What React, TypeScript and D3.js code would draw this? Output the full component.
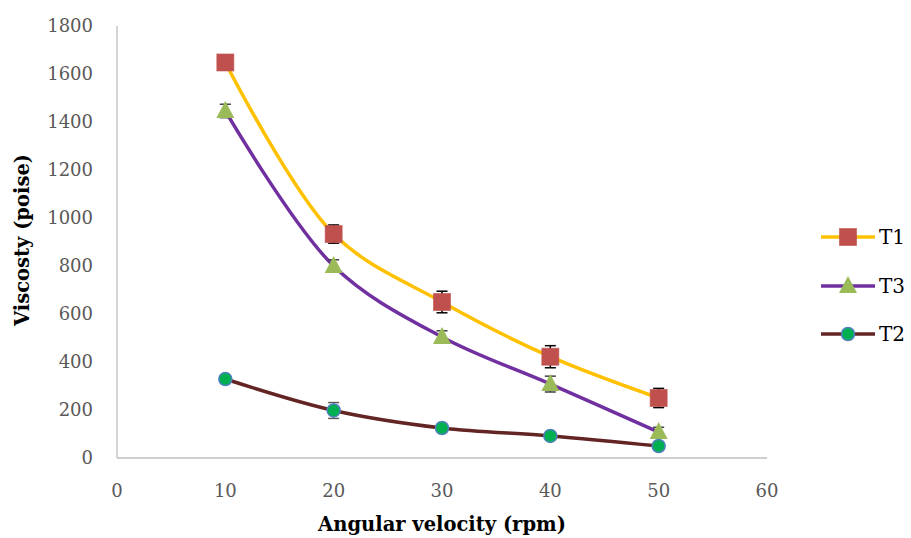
import React from "react";
import * as d3 from "d3";

const rpm = [10, 20, 30, 40, 50];
const t1 = [1648, 933, 650, 422, 250];
const t1Err = [30, 38, 45, 46, 40];
const t3 = [1446, 800, 504, 308, 108];
const t3Err = [28, 26, 26, 33, 20];
const t2 = [329, 198, 125, 92, 50];
const t2Err = [15, 33, 15, 12, 10];
const xTicks = [0, 10, 20, 30, 40, 50, 60];
const yTicks = [0, 200, 400, 600, 800, 1000, 1200, 1400, 1600, 1800];

const W = 911, H = 538;
const left = 117, right = 767, top = 26, bottom = 458;
const FONT = "'DejaVu Serif', 'Liberation Serif', serif";

export default function App() {
  const x = d3.scaleLinear().domain([0, 60]).range([left, right]);
  const y = d3.scaleLinear().domain([0, 1800]).range([bottom, top]);
  const line = d3
    .line<number>()
    .x((_, i) => x(rpm[i]))
    .y((d) => y(d))
    .curve(d3.curveCatmullRom.alpha(0.5));

  const series = [
    { name: "T1", vals: t1, err: t1Err, line: "#FFC000", errColor: "#000", marker: "square" },
    { name: "T3", vals: t3, err: t3Err, line: "#7030A0", errColor: "#404040", marker: "triangle" },
    { name: "T2", vals: t2, err: t2Err, line: "#632523", errColor: "#595959", marker: "circle" },
  ];

  const drawMarker = (type: string, cx: number, cy: number, key: string) => {
    if (type === "square")
      return <rect key={key} x={cx - 8.5} y={cy - 8.5} width={17} height={17} fill="#C0504D" stroke="#C0504D" strokeOpacity={0.6} />;
    if (type === "triangle")
      return (
        <path key={key} d={`M${cx},${cy - 10} L${cx + 9},${cy + 7} L${cx - 9},${cy + 7} Z`} fill="#9BBB59" />
      );
    return <circle key={key} cx={cx} cy={cy} r={6.5} fill="#00B050" stroke="#4F81BD" strokeWidth={1.5} />;
  };

  const legendY = [237, 286, 334];

  return (
    <svg width={W} height={H} style={{ position: "absolute", left: 0, top: 0, background: "#fff" }}>
      <line x1={left} x2={left} y1={top} y2={bottom} stroke="#BFBFBF" strokeWidth={1.3} />
      <line x1={left} x2={right} y1={bottom} y2={bottom} stroke="#BFBFBF" strokeWidth={1.3} />
      {yTicks.map((t) => (
        <text key={"y" + t} x={93} y={y(t)} dy="0.35em" textAnchor="end" fontFamily={FONT} fontSize={18} fill="#595959">
          {t}
        </text>
      ))}
      {xTicks.map((t) => (
        <text key={"x" + t} x={x(t)} y={491} dy="0.35em" textAnchor="middle" fontFamily={FONT} fontSize={18} fill="#595959">
          {t}
        </text>
      ))}
      <text x={442} y={524} dy="0.35em" textAnchor="middle" fontFamily={FONT} fontSize={19.5} fontWeight="bold" fill="#000">
        Angular velocity (rpm)
      </text>
      <text
        transform={`translate(22,240) rotate(-90)`}
        dy="0.35em"
        textAnchor="middle"
        fontFamily={FONT}
        fontSize={19.5}
        fontWeight="bold"
        fill="#000"
      >
        Viscosty (poise)
      </text>

      {series.map((s) => (
        <g key={s.name}>
          <path d={line(s.vals) || ""} fill="none" stroke={s.line} strokeWidth={3.5} />
          {s.vals.map((v, i) => {
            const cx = x(rpm[i]);
            const y1 = y(v + s.err[i]);
            const y2 = y(v - s.err[i]);
            return (
              <g key={i} stroke={s.errColor} strokeWidth={1.5}>
                <line x1={cx} x2={cx} y1={y1} y2={y2} />
                <line x1={cx - 5.5} x2={cx + 5.5} y1={y1} y2={y1} />
                <line x1={cx - 5.5} x2={cx + 5.5} y1={y2} y2={y2} />
              </g>
            );
          })}
        </g>
      ))}
      {series.map((s) => (
        <g key={s.name + "m"}>{s.vals.map((v, i) => drawMarker(s.marker, x(rpm[i]), y(v), s.name + i))}</g>
      ))}

      {series.map((s, i) => (
        <g key={s.name + "leg"}>
          <line x1={821} x2={875} y1={legendY[i]} y2={legendY[i]} stroke={s.line} strokeWidth={3.5} />
          {drawMarker(s.marker, 848, legendY[i], s.name + "lm")}
          <text x={879} y={legendY[i]} dy="0.35em" fontFamily={FONT} fontSize={20} fill="#000">
            {s.name}
          </text>
        </g>
      ))}
    </svg>
  );
}
